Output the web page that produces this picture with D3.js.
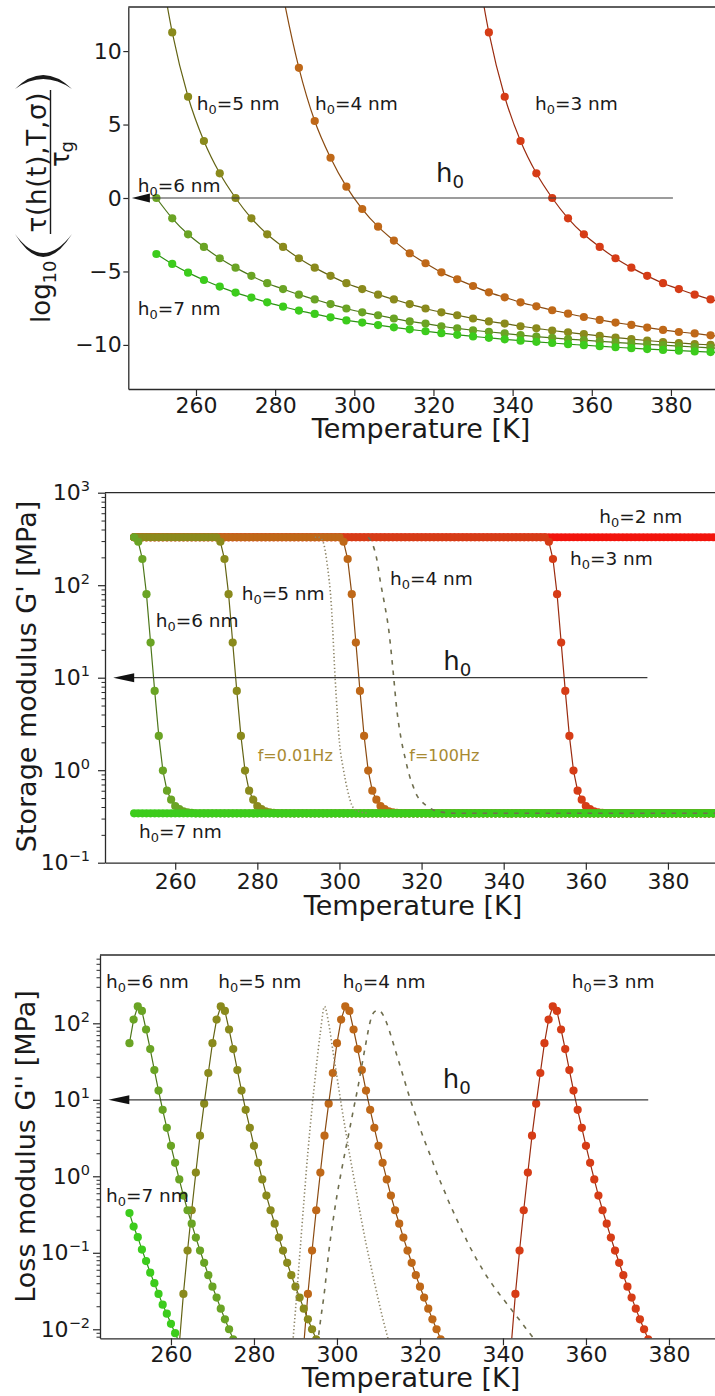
<!DOCTYPE html>
<html>
<head>
<meta charset="utf-8">
<script src="https://cdn.jsdelivr.net/npm/d3@7/dist/d3.min.js"></script>
<style>
html,body{margin:0;padding:0;background:#fff;}
svg{display:block;font-family:"DejaVu Sans",sans-serif;}
</style>
</head>
<body>
<svg id="chart" width="715" height="1396"></svg>
<script>
// ---------------- shared ----------------
const seriesLabels = ["=2 nm","=3 nm","=4 nm","=5 nm","=6 nm","=7 nm"];
const seriesColors = ["#f2140c","#d63c16","#bf6818","#8a8a1c","#6aa424","#3ccc1c"];
const xTickValues = [260,280,300,320,340,360,380];
const tauTickValues = [-10,-5,0,5,10];
const gpTickValues = [0.1,1,10,100,1000];
const gppTickValues = [0.01,0.1,1,10,100];

// ---------------- panel 1 : log10(tau/tau_g) ----------------
const tauTemps = [250,254,258,262,266,270,274,278,282,286,290,294,298,302,306,310,314,318,322,326,330,334,338,342,346,350,354,358,362,366,370,374,378,382,386,390,394,398];
const tauH3 = [null,null,null,null,null,null,null,null,null,null,null,null,null,null,null,null,null,null,null,null,
  17.5,11.27,6.89,3.88,1.68,0.0,-1.38,-2.47,-3.33,-4.1,-4.74,-5.3,-5.8,-6.2,-6.58,-6.9,-7.22,-7.52];
const tauH4 = [null,null,null,null,null,null,null,
  20,13.8,8.86,5.24,2.74,0.77,-0.75,-1.95,-2.9,-3.76,-4.44,-5.06,-5.53,-5.99,-6.42,-6.76,-7.1,-7.37,-7.64,-7.87,-8.1,-8.3,-8.48,-8.64,-8.82,-8.98,-9.12,-9.22,-9.35,-9.47,-9.58];
const tauH5 = [17.5,11.27,6.89,3.88,1.68,0.0,-1.38,-2.47,-3.33,-4.1,-4.74,-5.3,-5.8,-6.2,-6.58,-6.9,-7.22,-7.52,-7.78,-7.98,
  -8.2,-8.4,-8.55,-8.73,-8.87,-9.02,-9.14,-9.27,-9.39,-9.5,-9.6,-9.7,-9.8,-9.87,-9.94,-10.0,-10.06,-10.12];
const tauH6 = [0.0,-1.38,-2.47,-3.33,-4.1,-4.74,-5.3,-5.8,-6.2,-6.58,-6.9,-7.22,-7.52,-7.78,-7.98,-8.2,-8.4,-8.55,-8.73,-8.87,
  -9.0,-9.11,-9.22,-9.33,-9.43,-9.52,-9.6,-9.68,-9.76,-9.83,-9.9,-9.96,-10.02,-10.08,-10.14,-10.2,-10.25,-10.3];
const tauH7 = [-3.81,-4.49,-5.08,-5.58,-6.03,-6.44,-6.78,-7.1,-7.4,-7.66,-7.89,-8.12,-8.33,
  -8.48,-8.65,-8.8,-8.94,-9.07,-9.2,-9.31,-9.42,-9.52,-9.62,-9.71,-9.79,-9.87,-9.95,-10.02,-10.09,-10.16,-10.22,-10.28,-10.34,-10.39,-10.44,-10.49,-10.54,-10.58];

// ---------------- panel 2 : storage modulus G' [MPa] ----------------
const tempsG = [250,251,252,253,254,255,256,257,258,259,
  260,261,262,263,264,265,266,267,268,269,
  270,271,272,273,274,275,276,277,278,279,
  280,281,282,283,284,285,286,287,288,289,
  290,291,292,293,294,295,296,297,298,299,
  300,301,302,303,304,305,306,307,308,309,
  310,311,312,313,314,315,316,317,318,319,
  320,321,322,323,324,325,326,327,328,329,
  330,331,332,333,334,335,336,337,338,339,
  340,341,342,343,344,345,346,347,348,349,
  350,351,352,353,354,355,356,357,358,359,
  360,361,362,363,364,365,366,367,368,369,
  370,371,372,373,374,375,376,377,378,379,
  380,381,382,383,384,385,386,387,388,389,
  390,391,392,393,394,395];
const gpH2 = [330,330,330,330,330,330,330,330,330,330,
  330,330,330,330,330,330,330,330,330,330,
  330,330,330,330,330,330,330,330,330,330,
  330,330,330,330,330,330,330,330,330,330,
  330,330,330,330,330,330,330,330,330,330,
  330,330,330,330,330,330,330,330,330,330,
  330,330,330,330,330,330,330,330,330,330,
  330,330,330,330,330,330,330,330,330,330,
  330,330,330,330,330,330,330,330,330,330,
  330,330,330,330,330,330,330,330,330,330,
  330,330,330,330,330,330,330,330,330,330,
  330,330,330,330,330,330,330,330,330,330,
  330,330,330,330,330,330,330,330,330,330,
  330,330,330,330,330,330,330,330,330,330,
  330,330,330,330,330,330];
const gpH3 = [330,330,330,330,330,330,330,330,330,330,
  330,330,330,330,330,330,330,330,330,330,
  330,330,330,330,330,330,330,330,330,330,
  330,330,330,330,330,330,330,330,330,330,
  330,330,330,330,330,330,330,330,330,330,
  330,330,330,330,330,330,330,330,330,330,
  330,330,330,330,330,330,330,330,330,330,
  330,330,330,330,330,330,330,330,330,330,
  330,330,330,330,330,330,330,330,330,330,
  330,330,330,330,330,330,330,330,330,330,
  330,295,192,80,24,7.2,2.35,0.99,0.6,0.48,
  0.41,0.38,0.36,0.35,0.345,0.342,0.342,0.342,0.342,0.342,
  0.342,0.342,0.342,0.342,0.342,0.342,0.342,0.342,0.342,0.342,
  0.342,0.342,0.342,0.342,0.342,0.342,0.342,0.342,0.342,0.342,
  0.342,0.342,0.342,0.342,0.342,0.342];
const gpH4 = [330,330,330,330,330,330,330,330,330,330,
  330,330,330,330,330,330,330,330,330,330,
  330,330,330,330,330,330,330,330,330,330,
  330,330,330,330,330,330,330,330,330,330,
  330,330,330,330,330,330,330,330,330,330,
  330,295,192,80,24,7.2,2.35,0.99,0.6,0.48,
  0.41,0.38,0.36,0.35,0.345,0.342,0.342,0.342,0.342,0.342,
  0.342,0.342,0.342,0.342,0.342,0.342,0.342,0.342,0.342,0.342,
  0.342,0.342,0.342,0.342,0.342,0.342,0.342,0.342,0.342,0.342,
  0.342,0.342,0.342,0.342,0.342,0.342,0.342,0.342,0.342,0.342,
  0.342,0.342,0.342,0.342,0.342,0.342,0.342,0.342,0.342,0.342,
  0.342,0.342,0.342,0.342,0.342,0.342,0.342,0.342,0.342,0.342,
  0.342,0.342,0.342,0.342,0.342,0.342,0.342,0.342,0.342,0.342,
  0.342,0.342,0.342,0.342,0.342,0.342,0.342,0.342,0.342,0.342,
  0.342,0.342,0.342,0.342,0.342,0.342];
const gpH5 = [330,330,330,330,330,330,330,330,330,330,
  330,330,330,330,330,330,330,330,330,330,
  330,295,192,80,24,7.2,2.35,0.99,0.6,0.48,
  0.41,0.38,0.36,0.35,0.345,0.342,0.342,0.342,0.342,0.342,
  0.342,0.342,0.342,0.342,0.342,0.342,0.342,0.342,0.342,0.342,
  0.342,0.342,0.342,0.342,0.342,0.342,0.342,0.342,0.342,0.342,
  0.342,0.342,0.342,0.342,0.342,0.342,0.342,0.342,0.342,0.342,
  0.342,0.342,0.342,0.342,0.342,0.342,0.342,0.342,0.342,0.342,
  0.342,0.342,0.342,0.342,0.342,0.342,0.342,0.342,0.342,0.342,
  0.342,0.342,0.342,0.342,0.342,0.342,0.342,0.342,0.342,0.342,
  0.342,0.342,0.342,0.342,0.342,0.342,0.342,0.342,0.342,0.342,
  0.342,0.342,0.342,0.342,0.342,0.342,0.342,0.342,0.342,0.342,
  0.342,0.342,0.342,0.342,0.342,0.342,0.342,0.342,0.342,0.342,
  0.342,0.342,0.342,0.342,0.342,0.342,0.342,0.342,0.342,0.342,
  0.342,0.342,0.342,0.342,0.342,0.342];
const gpH6 = [330,295,192,80,24,7.2,2.35,0.99,0.6,0.48,
  0.41,0.38,0.36,0.35,0.345,0.342,0.342,0.342,0.342,0.342,
  0.342,0.342,0.342,0.342,0.342,0.342,0.342,0.342,0.342,0.342,
  0.342,0.342,0.342,0.342,0.342,0.342,0.342,0.342,0.342,0.342,
  0.342,0.342,0.342,0.342,0.342,0.342,0.342,0.342,0.342,0.342,
  0.342,0.342,0.342,0.342,0.342,0.342,0.342,0.342,0.342,0.342,
  0.342,0.342,0.342,0.342,0.342,0.342,0.342,0.342,0.342,0.342,
  0.342,0.342,0.342,0.342,0.342,0.342,0.342,0.342,0.342,0.342,
  0.342,0.342,0.342,0.342,0.342,0.342,0.342,0.342,0.342,0.342,
  0.342,0.342,0.342,0.342,0.342,0.342,0.342,0.342,0.342,0.342,
  0.342,0.342,0.342,0.342,0.342,0.342,0.342,0.342,0.342,0.342,
  0.342,0.342,0.342,0.342,0.342,0.342,0.342,0.342,0.342,0.342,
  0.342,0.342,0.342,0.342,0.342,0.342,0.342,0.342,0.342,0.342,
  0.342,0.342,0.342,0.342,0.342,0.342,0.342,0.342,0.342,0.342,
  0.342,0.342,0.342,0.342,0.342,0.342];
const gpH7 = [0.342,0.342,0.342,0.342,0.342,0.342,0.342,0.342,0.342,0.342,
  0.342,0.342,0.342,0.342,0.342,0.342,0.342,0.342,0.342,0.342,
  0.342,0.342,0.342,0.342,0.342,0.342,0.342,0.342,0.342,0.342,
  0.342,0.342,0.342,0.342,0.342,0.342,0.342,0.342,0.342,0.342,
  0.342,0.342,0.342,0.342,0.342,0.342,0.342,0.342,0.342,0.342,
  0.342,0.342,0.342,0.342,0.342,0.342,0.342,0.342,0.342,0.342,
  0.342,0.342,0.342,0.342,0.342,0.342,0.342,0.342,0.342,0.342,
  0.342,0.342,0.342,0.342,0.342,0.342,0.342,0.342,0.342,0.342,
  0.342,0.342,0.342,0.342,0.342,0.342,0.342,0.342,0.342,0.342,
  0.342,0.342,0.342,0.342,0.342,0.342,0.342,0.342,0.342,0.342,
  0.342,0.342,0.342,0.342,0.342,0.342,0.342,0.342,0.342,0.342,
  0.342,0.342,0.342,0.342,0.342,0.342,0.342,0.342,0.342,0.342,
  0.342,0.342,0.342,0.342,0.342,0.342,0.342,0.342,0.342,0.342,
  0.342,0.342,0.342,0.342,0.342,0.342,0.342,0.342,0.342,0.342,
  0.342,0.342,0.342,0.342,0.342,0.342];
// h0=4 at other frequencies (lines only)
const gpLowFTemps = [294,295,296,297,298,299,300,301,302,303,304,305,306,307];
const gpLowF = [330,329,295,170,63,9,2,1.0,0.6,0.42,0.37,0.355,0.347,0.343];
const gpHighFTemps = [307,308,309,310,311,312,313,314,315,316,317,318,319,320,321,322,323,324,325,326,327,328,395];
const gpHighF = [330,282,200,107,62,33,12.6,4.4,2.2,1.35,0.89,0.66,0.52,0.46,0.42,0.39,0.37,0.36,0.352,0.347,0.344,0.342,0.342];

// ---------------- panel 3 : loss modulus G'' [MPa] ----------------
const gppT3 = [342,343,344,345,346,347,348,349,350,351,352,353,354,355,356,357,358,359,360,361,362,363,364,365,366,367,368,369,370,371,372,373,374,375];
const gppH3 = [0.0063,0.029,0.107,0.36,1.12,3.4,8.9,22.4,55,112,166,145,83,46,24.5,13.2,7.4,4.3,2.5,1.5,0.91,0.56,0.36,0.24,0.158,0.107,0.074,0.051,0.036,0.026,0.0186,0.0135,0.0100,0.0074];
const gppT4 = [292,293,294,295,296,297,298,299,300,301,302,303,304,305,306,307,308,309,310,311,312,313,314,315,316,317,318,319,320,321,322,323,324,325];
const gppH4 = [0.0063,0.029,0.107,0.36,1.12,3.4,8.9,22.4,55,112,166,145,83,46,24.5,13.2,7.4,4.3,2.5,1.5,0.91,0.56,0.36,0.24,0.158,0.107,0.074,0.051,0.036,0.026,0.0186,0.0135,0.0100,0.0074];
const gppT5 = [262,263,264,265,266,267,268,269,270,271,272,273,274,275,276,277,278,279,280,281,282,283,284,285,286,287,288,289,290,291,292,293,294,295];
const gppH5 = [0.0063,0.029,0.107,0.36,1.12,3.4,8.9,22.4,55,112,166,145,83,46,24.5,13.2,7.4,4.3,2.5,1.5,0.91,0.56,0.36,0.24,0.158,0.107,0.074,0.051,0.036,0.026,0.0186,0.0135,0.0100,0.0074];
const gppT6 = [250,251,252,253,254,255,256,257,258,259,260,261,262,263,264,265,266,267,268,269,270,271,272,273,274,275];
const gppH6 = [55,112,166,145,83,46,24.5,13.2,7.4,4.3,2.5,1.5,0.91,0.56,0.36,0.24,0.158,0.107,0.074,0.051,0.036,0.026,0.0186,0.0135,0.0100,0.0074];
const gppT7 = [250,251,252,253,254,255,256,257,258,259,260,261,262];
const gppH7 = [0.33,0.22,0.16,0.11,0.078,0.055,0.04,0.029,0.021,0.016,0.0118,0.0089,0.0067];
const gppLowFTemps = [289,290,291,292,293,294,295,296,297,298,299,300,301,302,303,304,305,306,307,308,309,310,311,312,313];
const gppLowF = [0.004,0.0178,0.089,0.447,2.09,7.9,26.3,76,166,100,44.7,20,8.9,4.17,2.0,1.0,0.5,0.251,0.132,0.0741,0.0417,0.024,0.0141,0.0087,0.0055];
const gppHighFTemps = [295,296,297,298,299,300,301,302,303,304,305,306,307,308,309,310,311,312,313,314,315,316,317,318,319,320,321,
  322,323,324,325,326,327,328,329,330,331,332,333,334,335,336,337,338,339,340,341,342,343,344,345,346,347,348];
const gppHighF = [0.0045,0.0126,0.0316,0.1,0.251,0.562,1.12,2.14,3.98,7.6,
  14.1,28.2,56,105,141,148,132,100,69,45.7,
  30.2,20,13.2,8.9,6.2,4.27,3.02,2.19,1.58,1.12,
  0.83,0.62,0.457,0.347,0.263,0.2,0.155,0.12,0.0955,0.0759,
  0.0617,0.0501,0.0417,0.0347,0.0295,0.0251,0.0214,0.0182,0.0155,0.0132,
  0.0112,0.0095,0.0081,0.0069];

// ---------------- drawing ----------------
const svg = d3.select("#chart");
const defs = svg.append("defs");
const INK = "#1a1a1a";
const SPINE = "#2a2a2a";
const FREQ_COLOR = "#a88a32";

function makeClip(id, x, y) {
  const [x0, x1] = x.range();
  const [y1, y0] = y.range();
  defs.append("clipPath").attr("id", id).append("rect")
    .attr("x", x0).attr("y", y0).attr("width", x1 - x0).attr("height", y1 - y0);
  return "url(#" + id + ")";
}
function hText(g, x, y, rest, fs, color) {
  const t = g.append("text").attr("x", x).attr("y", y).attr("font-size", fs).attr("fill", color || INK);
  t.append("tspan").text("h");
  t.append("tspan").attr("font-size", fs * 0.7).attr("dy", fs * 0.22).text("0");
  if (rest) t.append("tspan").attr("dy", -fs * 0.22).text(rest);
  return t;
}
function arrow(g, x, y, tFrom, tTo, yv, head) {
  const yy = y(yv), xTip = x(tTo), xEnd = x(tFrom);
  g.append("line").attr("x1", xTip + head - 1).attr("x2", xEnd).attr("y1", yy).attr("y2", yy)
    .attr("stroke", "#3a3a3a").attr("stroke-width", 1.2);
  g.append("path").attr("d", `M${xTip},${yy}L${xTip + head},${yy - 4.5}L${xTip + head},${yy + 4.5}Z`).attr("fill", "#111");
}
function styleAxis(a, fs) {
  a.attr("font-family", "DejaVu Sans").attr("font-size", fs);
  a.select(".domain").attr("stroke", SPINE).attr("stroke-width", 1.3);
  a.selectAll(".tick line").attr("stroke", SPINE).attr("stroke-width", 1.2);
  a.selectAll(".tick text").attr("fill", INK);
}
function powLabels(a) {
  a.selectAll(".tick text").each(function (d) {
    const e = Math.round(Math.log10(d));
    const t = d3.select(this);
    t.text(null);
    t.append("tspan").text("10");
    t.append("tspan").attr("font-size", 14.5).attr("dy", -9).text(e < 0 ? "\u2212" + (-e) : String(e));
  });
}
function xAxis(x, yBottom, pad) {
  const a = svg.append("g").attr("transform", `translate(0,${yBottom})`)
    .call(d3.axisBottom(x).tickValues(xTickValues).tickSize(7).tickPadding(pad).tickSizeOuter(0).tickFormat(d3.format("d")));
  styleAxis(a, 22);
}
function topSpine(x, yTop) {
  svg.append("line").attr("x1", x.range()[0]).attr("x2", x.range()[1]).attr("y1", yTop).attr("y2", yTop)
    .attr("stroke", SPINE).attr("stroke-width", 1.3);
}
function logMinor(y, xLeft) {
  const minor = y.ticks().filter(v => Math.abs(Math.log10(v) - Math.round(Math.log10(v))) > 1e-9);
  const a = svg.append("g").attr("transform", `translate(${xLeft},0)`)
    .call(d3.axisLeft(y).tickValues(minor).tickSize(3.5).tickFormat("").tickSizeOuter(0));
  a.select(".domain").remove();
  a.selectAll(".tick line").attr("stroke", SPINE).attr("stroke-width", 1);
}
function drawDotSeries(g, x, y, temps, vals, color, r, curve) {
  const pts = temps.map((t, i) => ({ t, v: vals[i] })).filter(p => p.v !== null && p.v !== undefined);
  const line = d3.line().x(p => x(p.t)).y(p => y(p.v)).curve(curve || d3.curveLinear);
  g.append("path").attr("d", line(pts)).attr("fill", "none")
    .attr("stroke", d3.color(color).darker(0.9)).attr("stroke-width", 1.2);
  g.selectAll(null).data(pts).enter().append("circle")
    .attr("cx", p => x(p.t)).attr("cy", p => y(p.v)).attr("r", r).attr("fill", color);
}
function drawFreqLine(g, x, y, temps, vals, dash, color) {
  const pts = temps.map((t, i) => ({ t, v: vals[i] }));
  const line = d3.line().x(p => x(p.t)).y(p => y(p.v)).curve(d3.curveMonotoneX);
  g.append("path").attr("d", line(pts)).attr("fill", "none")
    .attr("stroke", color).attr("stroke-width", 1.6).attr("stroke-dasharray", dash);
}

// ===== Panel 1 =====
{
  const x = d3.scaleLinear().domain([242.9, 392.9]).range([128.3, 722]);
  const y = d3.scaleLinear().domain([-13, 13]).range([389, 7]);
  const clip = makeClip("clip1", x, y);
  const g = svg.append("g").attr("clip-path", clip);
  const series = [tauH3, tauH4, tauH5, tauH6, tauH7];
  series.forEach((vals, k) => drawDotSeries(g, x, y, tauTemps, vals, seriesColors[k + 1], 4.1, d3.curveMonotoneX));

  xAxis(x, 389, 1.5);
  const ya = svg.append("g").attr("transform", "translate(128.3,0)")
    .call(d3.axisLeft(y).tickValues(tauTickValues).tickSize(5).tickPadding(1.5).tickSizeOuter(0));
  styleAxis(ya, 22);
  topSpine(x, 7);

  const ag = svg.append("g");
  arrow(ag, x, y, 380.5, 243.8, 0, 18);
  hText(ag, 196.7, 110, seriesLabels[3], 18.5);
  hText(ag, 315, 110, seriesLabels[2], 18.5);
  hText(ag, 535, 110, seriesLabels[1], 18.5);
  hText(ag, 137.7, 191.5, seriesLabels[4], 18.5);
  hText(ag, 137.7, 315, seriesLabels[5], 18.5);
  hText(ag, 436, 182, "", 26);

  svg.append("text").attr("x", 421).attr("y", 438).attr("text-anchor", "middle")
    .attr("font-size", 27).attr("fill", INK).text("Temperature [K]");

  // y label: log10( tau(h(t),T,sigma) / tau_g )
  const yl = svg.append("g").attr("transform", "rotate(-90)").attr("fill", INK);
  yl.append("text").attr("x", -323).attr("y", 50).attr("font-size", 26).text("log");
  yl.append("text").attr("x", -283.5).attr("y", 56).attr("font-size", 18).text("10");
  yl.append("text").attr("x", -162.5).attr("y", 46).attr("font-size", 26).attr("text-anchor", "middle")
    .attr("textLength", 140).attr("lengthAdjust", "spacing").text("\u03c4(h(t),T,\u03c3)");
  yl.append("text").attr("x", -167).attr("y", 68.5).attr("font-size", 26).text("\u03c4");
  yl.append("text").attr("x", -152.5).attr("y", 73).attr("font-size", 18).text("g");
  svg.append("line").attr("x1", 50.5).attr("x2", 50.5).attr("y1", 90).attr("y2", 234)
    .attr("stroke", INK).attr("stroke-width", 1.4);
  svg.append("path").attr("d", "M15,234Q43,280 72,234Q43,272 15,234Z").attr("fill", INK);
  svg.append("path").attr("d", "M15,89Q43,61 72,89Q43,69 15,89Z").attr("fill", INK);
}

// ===== Panel 2 =====
{
  const x = d3.scaleLinear().domain([242.9, 392.9]).range([105, 720.9]);
  const y = d3.scaleLog().domain([0.1, 1000]).range([862.7, 492.7]);
  const clip = makeClip("clip2", x, y);
  const g = svg.append("g").attr("clip-path", clip);
  const series = [gpH2, gpH3, gpH4, gpH5, gpH6, gpH7];
  series.forEach((vals, k) => drawDotSeries(g, x, y, tempsG, vals, seriesColors[k], 4.1));
  drawFreqLine(g, x, y, gpLowFTemps, gpLowF, "1.3,2.4", "#8c8466");
  drawFreqLine(g, x, y, gpHighFTemps, gpHighF, "4.5,6", "#6f6e4e");

  xAxis(x, 862.7, 3.5);
  logMinor(y, 105);
  const ya = svg.append("g").attr("transform", "translate(105,0)")
    .call(d3.axisLeft(y).tickValues(gpTickValues).tickSize(7).tickPadding(8).tickSizeOuter(0));
  styleAxis(ya, 22);
  powLabels(ya);
  topSpine(x, 492.7);

  const ag = svg.append("g");
  arrow(ag, x, y, 375, 244.9, 10, 21);
  hText(ag, 599.3, 523.3, seriesLabels[0], 18.5);
  hText(ag, 570, 565, seriesLabels[1], 18.5);
  hText(ag, 390, 585, seriesLabels[2], 18.5);
  hText(ag, 241.7, 600, seriesLabels[3], 18.5);
  hText(ag, 155.7, 627.3, seriesLabels[4], 18.5);
  hText(ag, 139, 837.7, seriesLabels[5], 18.5);
  hText(ag, 443.3, 670, "", 26);
  ag.append("text").attr("x", 257.7).attr("y", 760.7).attr("font-size", 16).attr("fill", FREQ_COLOR).text("f=0.01Hz");
  ag.append("text").attr("x", 409.3).attr("y", 761).attr("font-size", 16).attr("fill", FREQ_COLOR).text("f=100Hz");

  svg.append("text").attr("x", 413).attr("y", 915).attr("text-anchor", "middle")
    .attr("font-size", 27).attr("fill", INK).text("Temperature [K]");
  svg.append("text").attr("transform", "translate(36,676.5) rotate(-90)").attr("text-anchor", "middle")
    .attr("font-size", 27).attr("fill", INK).text("Storage modulus G' [MPa]");
}

// ===== Panel 3 =====
{
  const x = d3.scaleLinear().domain([242.9, 392.9]).range([100, 722.5]);
  const y = d3.scaleLog().domain([Math.pow(10, -2.118), Math.pow(10, 2.893)]).range([1338.3, 955]);
  const clip = makeClip("clip3", x, y);
  const g = svg.append("g").attr("clip-path", clip);
  const temps = [gppT3, gppT4, gppT5, gppT6, gppT7];
  const series = [gppH3, gppH4, gppH5, gppH6, gppH7];
  series.forEach((vals, k) => drawDotSeries(g, x, y, temps[k], vals, seriesColors[k + 1], 4.1));
  drawFreqLine(g, x, y, gppLowFTemps, gppLowF, "1.3,2.4", "#8c8466");
  drawFreqLine(g, x, y, gppHighFTemps, gppHighF, "4.5,6", "#6f6e4e");

  xAxis(x, 1338.3, 0.8);
  logMinor(y, 100);
  const ya = svg.append("g").attr("transform", "translate(100,0)")
    .call(d3.axisLeft(y).tickValues(gppTickValues).tickSize(7).tickPadding(3).tickSizeOuter(0));
  styleAxis(ya, 22);
  powLabels(ya);
  topSpine(x, 955);

  const ag = svg.append("g");
  arrow(ag, x, y, 375, 244.9, 10, 21);
  hText(ag, 106, 988.3, seriesLabels[4], 18.5);
  hText(ag, 218.3, 988.3, seriesLabels[3], 18.5);
  hText(ag, 342.7, 987.5, seriesLabels[2], 18.5);
  hText(ag, 571.7, 988.3, seriesLabels[1], 18.5);
  hText(ag, 106, 1201.7, seriesLabels[5], 18.5);
  hText(ag, 442.7, 1088.3, "", 26);

  svg.append("text").attr("x", 411).attr("y", 1387).attr("text-anchor", "middle")
    .attr("font-size", 27).attr("fill", INK).text("Temperature [K]");
  svg.append("text").attr("transform", "translate(35,1146.5) rotate(-90)").attr("text-anchor", "middle")
    .attr("font-size", 27).attr("fill", INK).text("Loss modulus G'' [MPa]");
}
</script>
</body>
</html>
